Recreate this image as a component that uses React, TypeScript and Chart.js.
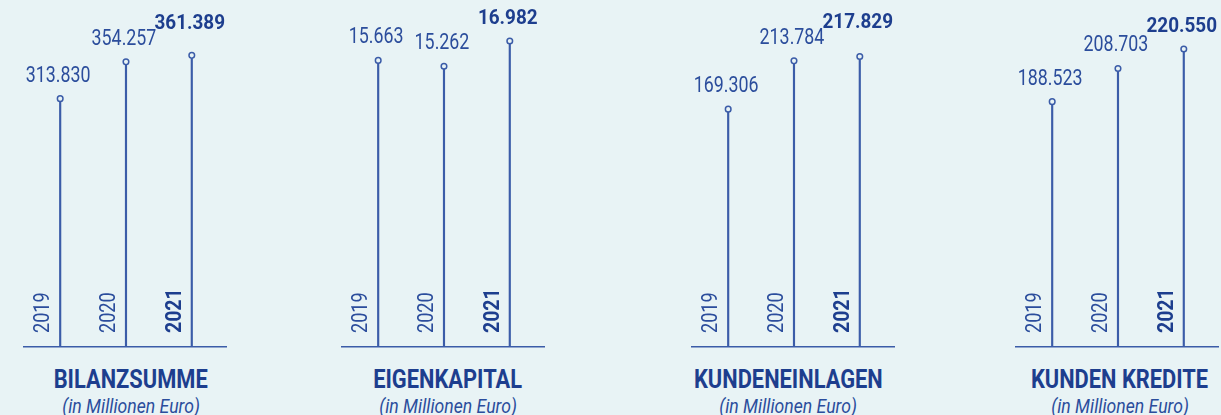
import React, { useEffect, useRef } from "react";
import { Chart, registerables } from "chart.js";

Chart.register(...registerables);

// ---- data ----
const years = ["2019", "2020", "2021"];
const bilanzsumme = [313.83, 354.257, 361.389];
const eigenkapital = [15.663, 15.262, 16.982];
const kundeneinlagen = [169.306, 213.784, 217.829];
const kundenKredite = [188.523, 208.703, 220.55];
const titles = ["BILANZSUMME", "EIGENKAPITAL", "KUNDENEINLAGEN", "KUNDEN KREDITE"];
const subtitle = "(in Millionen Euro)";
// value-axis range per panel
const axisMin = [41.1, -3.83, -49.7, 39.4];
const axisMax = [422.2, 19.77, 269.8, 250.3];

// ---- layout / style ----
const BG = "#e8f3f5";
const LINE = "#3b5ca8";
const TEXT = "#2b4d9c";
const DARK = "#1d3e8e";
const FONT = "Roboto, 'Liberation Sans', sans-serif";
const PAD = 45;
const PANEL_W = 202;
const panelLeft = [24.3, 341.7, 692.3, 1015.7];
const titleCenter = [131, 448, 788, 1120];

function drawScaled(ctx: CanvasRenderingContext2D, text: string, x: number, y: number, sx: number) {
  ctx.save();
  ctx.translate(x, y);
  ctx.scale(sx, 1);
  ctx.fillText(text, 0, 0);
  ctx.restore();
}

function Panel({ values, min, max, left }: { values: number[]; min: number; max: number; left: number }) {
  const ref = useRef<HTMLCanvasElement>(null);
  useEffect(() => {
    const pts = values.map((v, i) => ({ x: i, y: v }));
    const labelPlugin = {
      id: "lolliLabels",
      afterDatasetsDraw(chart: any) {
        const ctx = chart.ctx as CanvasRenderingContext2D;
        const meta = chart.getDatasetMeta(0);
        const placed: { l: number; r: number; y: number }[] = [];
        meta.data.forEach((pt: any, i: number) => {
          const bold = i === 2;
          ctx.save();
          ctx.fillStyle = bold ? DARK : TEXT;
          ctx.textAlign = "center";
          ctx.textBaseline = "alphabetic";
          ctx.font = bold ? `bold 21px ${FONT}` : `22px ${FONT}`;
          const sx = bold ? 0.9 : 0.81;
          const text = values[i].toFixed(3);
          const w = ctx.measureText(text).width * sx;
          const cx = pt.x - 2;
          let y = pt.y - 17;
          // keep neighbouring value labels from colliding
          for (const p of placed) {
            const overlapX = cx - w / 2 < p.r && cx + w / 2 > p.l;
            if (overlapX && Math.abs(y - p.y) < 16) y = p.y - 16;
          }
          placed.push({ l: cx - w / 2, r: cx + w / 2, y });
          drawScaled(ctx, text, cx, y, sx);
          ctx.translate(pt.x - 11, chart.chartArea.bottom - 14);
          ctx.rotate(-Math.PI / 2);
          ctx.textAlign = "left";
          ctx.font = bold ? `bold 22px ${FONT}` : `22px ${FONT}`;
          ctx.scale(bold ? 0.885 : 0.82, 1);
          ctx.fillText(years[i], 0, 0);
          ctx.restore();
        });
      },
    };
    const chart = new Chart(ref.current!, {
      type: "bar",
      data: {
        datasets: [
          {
            type: "line",
            data: pts,
            showLine: false,
            pointRadius: 2.8,
            pointBorderWidth: 1.5,
            pointBackgroundColor: BG,
            pointBorderColor: LINE,
            order: 0,
          } as any,
          {
            type: "bar",
            data: pts,
            base: min,
            backgroundColor: LINE,
            barThickness: 1.5,
            order: 1,
          } as any,
        ],
      },
      options: {
        responsive: false,
        maintainAspectRatio: false,
        animation: false,
        events: [],
        layout: { padding: { left: PAD, right: PAD, top: 0, bottom: 5 }, autoPadding: false },
        plugins: { legend: { display: false }, tooltip: { enabled: false }, title: { display: false } },
        scales: {
          x: {
            type: "linear",
            offset: false,
            min: -0.55,
            max: 2.52,
            grid: { display: false, drawTicks: false },
            ticks: { display: false },
            border: { display: true, color: LINE, width: 1.5 },
          },
          y: { display: false, min, max },
        },
      } as any,
      plugins: [labelPlugin],
    });
    return () => chart.destroy();
  }, []);
  return (
    <canvas
      ref={ref}
      width={PANEL_W + 2 * PAD}
      height={352}
      style={{ position: "absolute", left: left - PAD, top: 0, width: PANEL_W + 2 * PAD, height: 352 }}
    />
  );
}

export default function App() {
  const series = [bilanzsumme, eigenkapital, kundeneinlagen, kundenKredite];
  return (
    <div
      style={{
        position: "absolute",
        left: 0,
        top: 0,
        width: 1221,
        height: 415,
        overflow: "hidden",
        background: BG,
        fontFamily: FONT,
      }}
    >
      {series.map((s, i) => (
        <Panel key={i} values={s} min={axisMin[i]} max={axisMax[i]} left={panelLeft[i]} />
      ))}
      {titles.map((t, i) => (
        <React.Fragment key={t}>
          <div
            style={{
              position: "absolute",
              left: titleCenter[i] - 150,
              width: 300,
              top: 367.2,
              textAlign: "center",
              fontSize: 26,
              lineHeight: "25px",
              fontWeight: "bold",
              color: DARK,
              whiteSpace: "nowrap",
            }}
          >
            <span style={{ display: "inline-block", transform: "scaleX(0.84)" }}>{t}</span>
          </div>
          <div
            style={{
              position: "absolute",
              left: titleCenter[i] - 150,
              width: 300,
              top: 396.4,
              textAlign: "center",
              fontSize: 20,
              lineHeight: "20px",
              fontStyle: "italic",
              color: TEXT,
              whiteSpace: "nowrap",
            }}
          >
            <span style={{ display: "inline-block", transform: "scaleX(0.88)" }}>{subtitle}</span>
          </div>
        </React.Fragment>
      ))}
    </div>
  );
}
